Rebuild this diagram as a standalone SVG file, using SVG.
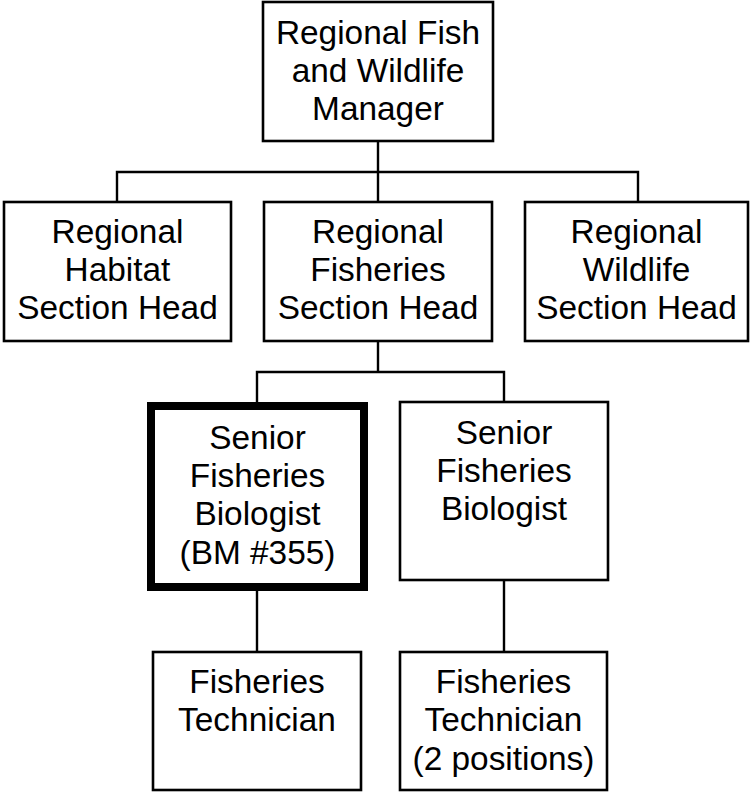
<svg xmlns="http://www.w3.org/2000/svg" width="751" height="792" viewBox="0 0 751 792">
<style>
.box{fill:#fff;stroke:#000;stroke-width:2.6}
.thick{fill:#fff;stroke:#000;stroke-width:8}
.lbl{font-family:"Liberation Sans",Arial,sans-serif;font-size:33.4px;fill:#000;text-anchor:middle}
.conn{fill:none;stroke:#000;stroke-width:2.4}
</style>
<rect width="751" height="792" fill="#fff"/>
<g id="connectors">
<path class="conn" d="M378 141V202M117 202V172H638V202"/>
<path class="conn" d="M378 341V372M257 402V372H504V402"/>
<path class="conn" d="M257 591V652M504 580V652"/>
</g>
<g id="manager">
<rect class="box" x="263" y="2" width="230" height="139"/>
<text class="lbl" x="378" y="44">Regional Fish</text>
<text class="lbl" x="378" y="82">and Wildlife</text>
<text class="lbl" x="378" y="120">Manager</text>
</g>
<g id="habitat">
<rect class="box" x="4" y="202" width="227" height="139"/>
<text class="lbl" x="117.5" y="243">Regional</text>
<text class="lbl" x="117.5" y="281">Habitat</text>
<text class="lbl" x="117.5" y="319">Section Head</text>
</g>
<g id="fisheries">
<rect class="box" x="264" y="202" width="228" height="139"/>
<text class="lbl" x="378" y="243">Regional</text>
<text class="lbl" x="378" y="281">Fisheries</text>
<text class="lbl" x="378" y="319">Section Head</text>
</g>
<g id="wildlife">
<rect class="box" x="525" y="202" width="223" height="139"/>
<text class="lbl" x="636.5" y="243">Regional</text>
<text class="lbl" x="636.5" y="281">Wildlife</text>
<text class="lbl" x="636.5" y="319">Section Head</text>
</g>
<g id="sfb1">
<rect class="thick" x="151" y="406" width="213" height="181"/>
<text class="lbl" x="257.5" y="449">Senior</text>
<text class="lbl" x="257.5" y="487">Fisheries</text>
<text class="lbl" x="257.5" y="525">Biologist</text>
<text class="lbl" x="257.5" y="564">(BM #355)</text>
</g>
<g id="sfb2">
<rect class="box" x="400" y="402" width="208" height="178"/>
<text class="lbl" x="504" y="444">Senior</text>
<text class="lbl" x="504" y="482">Fisheries</text>
<text class="lbl" x="504" y="520">Biologist</text>
</g>
<g id="tech1">
<rect class="box" x="153" y="652" width="208" height="138"/>
<text class="lbl" x="257" y="693">Fisheries</text>
<text class="lbl" x="257" y="731">Technician</text>
</g>
<g id="tech2">
<rect class="box" x="400" y="652" width="207" height="138"/>
<text class="lbl" x="503.5" y="693">Fisheries</text>
<text class="lbl" x="503.5" y="731">Technician</text>
<text class="lbl" x="503.5" y="770">(2 positions)</text>
</g>
</svg>
